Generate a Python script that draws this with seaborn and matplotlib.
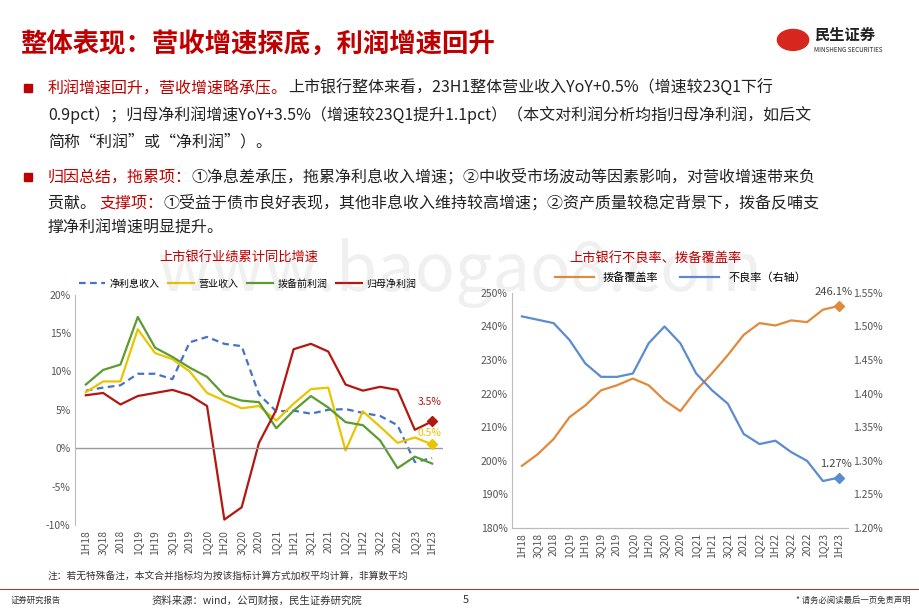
import matplotlib
matplotlib.use("Agg")
import matplotlib.pyplot as plt
import matplotlib.ticker as mtick
import seaborn as sns
import pandas as pd
from matplotlib.patches import Circle, Rectangle
from matplotlib.lines import Line2D

plt.rcParams["font.family"] = ["Noto Sans CJK SC", "DejaVu Sans"]

quarters = ["1H18","3Q18","2018","1Q19","1H19","3Q19","2019","1Q20","1H20","3Q20","2020",
            "1Q21","1H21","3Q21","2021","1Q22","1H22","3Q22","2022","1Q23","1H23"]
nii  = [7.5,7.9,8.2,9.7,9.7,9.0,13.8,14.5,13.6,13.3,7.0,4.8,4.9,4.5,5.0,5.1,4.6,4.2,3.0,-1.8,-1.3]
rev  = [7.3,8.7,8.7,15.5,12.4,11.6,10.0,7.2,6.2,5.2,5.5,3.6,5.8,7.7,7.9,-0.3,4.8,2.8,0.7,1.4,0.5]
ppop = [8.3,10.2,10.9,17.1,13.1,11.9,10.5,9.3,6.9,6.2,6.0,2.6,4.9,6.8,5.3,3.4,3.0,1.0,-2.6,-1.1,-2.0]
np_  = [6.9,7.2,5.7,6.8,7.2,7.6,6.9,5.5,-9.3,-7.7,0.7,5.0,12.9,13.6,12.6,8.3,7.5,8.0,7.6,2.4,3.5]
coverage = [198.5,202,206.5,213,216.5,221,222.5,224.5,222.5,218,214.8,221,226,231.5,237.5,241,240.3,241.8,241.3,245,246.1]
npl = [1.515,1.51,1.505,1.48,1.445,1.425,1.425,1.43,1.475,1.50,1.475,1.43,1.405,1.385,1.34,1.325,1.33,1.313,1.30,1.27,1.275]
left_names = ["净利息收入","营业收入","拨备前利润","归母净利润"]

RED = "#C00000"
fig = plt.figure(figsize=(9.2, 6.14), dpi=100)
fig.patch.set_facecolor("white")

# ---- header ----
fig.text(0.022, 0.927, "整体表现：营收增速探底，利润增速回升", color=RED, fontsize=19, fontweight="bold", va="center")
fig.add_artist(Circle((0.862, 0.935), 0.017, transform=fig.transFigure, color="#D7261E"))
fig.text(0.885, 0.943, "民生证券", fontsize=11, fontweight="bold", color="#222", va="center")
fig.text(0.885, 0.918, "MINSHENG SECURITIES", fontsize=4.5, color="#222", va="center")

renderer = fig.canvas.get_renderer()
def line(x, y, parts, fs=11.5):
    for txt, col in parts:
        t = fig.text(x, y, txt, color=col, fontsize=fs, va="center")
        bb = t.get_window_extent(renderer=renderer)
        x += bb.width / fig.bbox.width

def bullet(y):
    fig.add_artist(Rectangle((0.026, y - 0.007), 0.009, 0.014, transform=fig.transFigure, color=RED))

K = "#222222"
bullet(0.857)
line(0.052, 0.857, [("利润增速回升，营收增速略承压。", RED), ("上市银行整体来看，23H1整体营业收入YoY+0.5%（增速较23Q1下行", K)])
line(0.052, 0.812, [("0.9pct）；归母净利润增速YoY+3.5%（增速较23Q1提升1.1pct）（本文对利润分析均指归母净利润，如后文", K)])
line(0.052, 0.769, [("简称“利润”或“净利润”）。", K)])
bullet(0.712)
line(0.052, 0.712, [("归因总结，拖累项：", RED), ("①净息差承压，拖累净利息收入增速；②中收受市场波动等因素影响，对营收增速带来负", K)])
line(0.052, 0.669, [("贡献。 ", K), ("支撑项：", RED), ("①受益于债市良好表现，其他非息收入维持较高增速；②资产质量较稳定背景下，拨备反哺支", K)])
line(0.052, 0.628, [("撑净利润增速明显提升。", K)])

# ---- left chart ----
df = pd.DataFrame({"q": quarters * 4,
                   "v": nii + rev + ppop + np_,
                   "s": sum([[n] * len(quarters) for n in left_names], [])})
ax1 = fig.add_axes([0.082, 0.145, 0.399, 0.375])
pal = {"净利息收入": "#4472C4", "营业收入": "#E8C500", "拨备前利润": "#5B9B31", "归母净利润": "#B3170F"}
sns.lineplot(data=df, x="q", y="v", hue="s", palette=pal, sort=False, ax=ax1, linewidth=1.6, legend=False)
ax1.get_lines()[0].set_linestyle((0, (3, 2)))
ax1.set_ylim(-10, 20)
ax1.yaxis.set_major_formatter(mtick.FuncFormatter(lambda v, p: f"{v:.0f}%"))
ax1.set_yticks(range(-10, 21, 5))
ax1.set_xlim(-0.6, len(quarters) - 0.4)
ax1.axhline(0, color="#999", lw=1)
for sp in ["top", "right", "bottom"]:
    ax1.spines[sp].set_visible(False)
ax1.spines["left"].set_color("#bbb")
ax1.tick_params(axis="x", rotation=90, labelsize=7.5, colors="#555", length=0)
ax1.tick_params(axis="y", labelsize=7.5, colors="#555", length=0)
ax1.set_xlabel(""); ax1.set_ylabel("")
ax1.plot(len(quarters) - 1, np_[-1], "D", color="#B3170F", ms=5)
ax1.plot(len(quarters) - 1, rev[-1], "D", color="#E8C500", ms=5)
ax1.annotate(f"{np_[-1]}%", (len(quarters) - 1, np_[-1]), xytext=(-2, 12), textcoords="offset points", ha="center", color="#B3170F", fontsize=7.5)
ax1.annotate(f"{rev[-1]}%", (len(quarters) - 1, rev[-1]), xytext=(-2, 6), textcoords="offset points", ha="center", color="#E8C500", fontsize=7.5)
h = [Line2D([], [], color=pal[n], lw=1.6, ls=(0, (3, 2)) if i == 0 else "-") for i, n in enumerate(left_names)]
ax1.legend(h, left_names, loc="lower center", bbox_to_anchor=(0.47, 1.0), ncol=4, frameon=False, fontsize=7.2,
           handlelength=2.6, columnspacing=0.9, handletextpad=0.4, borderaxespad=0.2)
fig.text(0.26, 0.58, "上市银行业绩累计同比增速", color=RED, fontsize=9.5, ha="center", va="center")

# ---- right chart ----
ax2 = fig.add_axes([0.557, 0.14, 0.365, 0.383])
d2 = pd.DataFrame({"q": quarters, "c": coverage, "n": npl})
sns.lineplot(data=d2, x="q", y="c", sort=False, ax=ax2, color="#E08A3C", linewidth=1.6)
ax3 = ax2.twinx()
sns.lineplot(data=d2, x="q", y="n", sort=False, ax=ax3, color="#5B8BD0", linewidth=1.6)
ax2.set_ylim(180, 250); ax3.set_ylim(1.20, 1.55)
ax2.set_yticks(range(180, 251, 10)); ax3.set_yticks([1.20,1.25,1.30,1.35,1.40,1.45,1.50,1.55])
ax2.yaxis.set_major_formatter(mtick.FuncFormatter(lambda v, p: f"{v:.0f}%"))
ax3.yaxis.set_major_formatter(mtick.FuncFormatter(lambda v, p: f"{v:.2f}%"))
ax2.set_xlim(-0.6, len(quarters) - 0.4)
for a in (ax2, ax3):
    for sp in ["top", "right", "left"]:
        a.spines[sp].set_visible(False)
    a.spines["bottom"].set_color("#bbb")
    a.set_xlabel(""); a.set_ylabel("")
    a.tick_params(axis="y", labelsize=7.5, colors="#555", length=0)
ax2.spines["left"].set_visible(True); ax2.spines["left"].set_color("#bbb")
ax2.tick_params(axis="x", rotation=90, labelsize=7.5, colors="#555", length=0)
n = len(quarters) - 1
ax2.plot(n, coverage[-1], "D", color="#E08A3C", ms=5)
ax3.plot(n, npl[-1], "D", color="#5B8BD0", ms=5)
ax2.annotate(f"{coverage[-1]}%", (n, coverage[-1]), xytext=(-4, 8), textcoords="offset points", ha="center", color="#444", fontsize=8)
ax3.annotate("1.27%", (n, npl[-1]), xytext=(-2, 8), textcoords="offset points", ha="center", color="#444", fontsize=8)
h2 = [Line2D([], [], color="#E08A3C", lw=1.6), Line2D([], [], color="#5B8BD0", lw=1.6)]
ax2.legend(h2, ["拨备覆盖率", "不良率（右轴）"], loc="lower center", bbox_to_anchor=(0.5, 1.0), ncol=2, frameon=False, fontsize=8, handlelength=3.5, columnspacing=2)
fig.text(0.712, 0.58, "上市银行不良率、拨备覆盖率", color=RED, fontsize=9.5, ha="center", va="center")

# watermark
fig.text(0.5, 0.555, "www.baogao8.com", fontsize=48, color="#888", alpha=0.12, ha="center", va="center", zorder=0)

# ---- footer ----
fig.text(0.052, 0.057, "注：若无特殊备注，本文合并指标均为按该指标计算方式加权平均计算，非算数平均", fontsize=7, color="#333")
fig.add_artist(Line2D([0, 1], [0.04, 0.04], transform=fig.transFigure, color="#C00000", lw=0.6))
fig.text(0.012, 0.022, "证券研究报告", fontsize=6, color="#333", va="center")
fig.text(0.165, 0.022, "资料来源：wind，公司财报，民生证券研究院", fontsize=7.5, color="#333", va="center")
fig.text(0.503, 0.022, "5", fontsize=8, color="#333", va="center")
fig.text(0.99, 0.022, "* 请务必阅读最后一页免责声明", fontsize=6, color="#333", va="center", ha="right")

fig.savefig("out.png", dpi=100)
